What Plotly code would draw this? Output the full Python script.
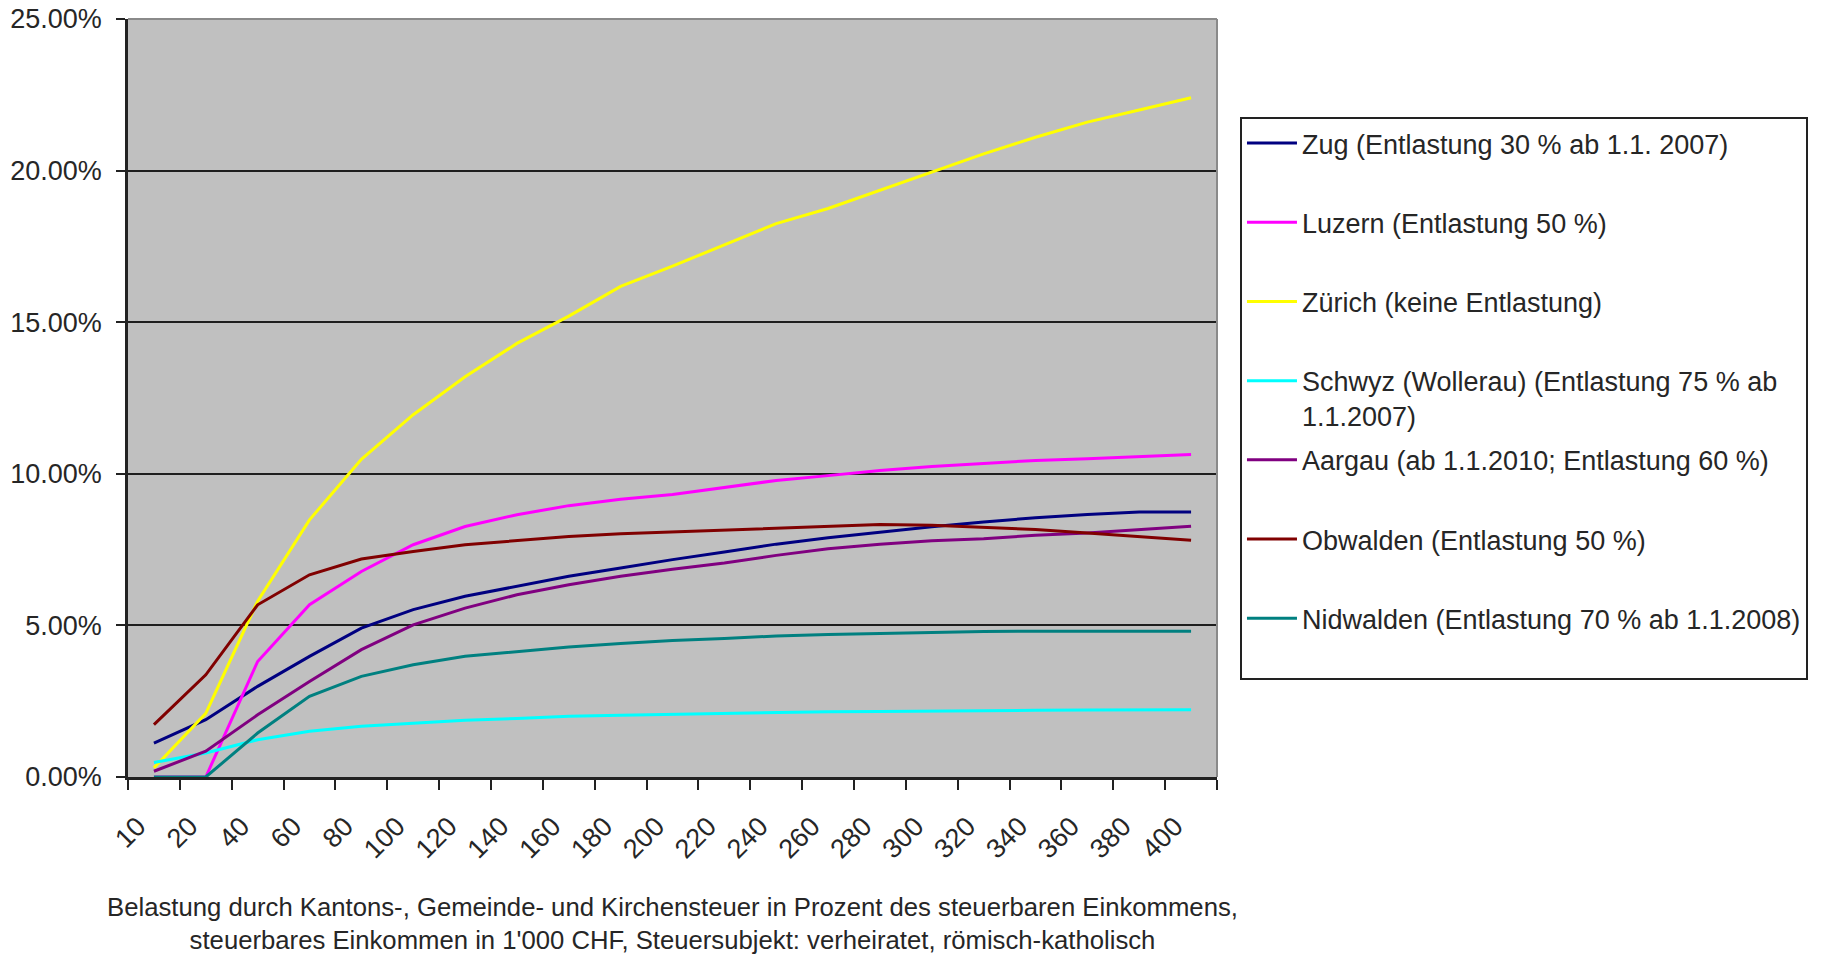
import plotly.graph_objects as go

# Taxable income in 1'000 CHF (category axis)
incomes = [10, 20, 40, 60, 80, 100, 120, 140, 160, 180, 200,
           220, 240, 260, 280, 300, 320, 340, 360, 380, 400]
categories = [str(v) for v in incomes]

# Tax burden in percent of taxable income
zug = [1.12, 1.89, 2.99, 3.98, 4.91, 5.52, 5.96, 6.29, 6.62, 6.89, 7.17,
       7.42, 7.68, 7.89, 8.08, 8.25, 8.41, 8.55, 8.66, 8.74, 8.74]
luzern = [0.0, 0.0, 3.81, 5.68, 6.78, 7.66, 8.26, 8.65, 8.95, 9.16, 9.32,
          9.56, 9.78, 9.94, 10.11, 10.24, 10.35, 10.44, 10.50, 10.57, 10.64]
zurich = [0.3, 2.1, 5.8, 8.48, 10.48, 11.95, 13.2, 14.3, 15.2, 16.18, 16.85,
          17.55, 18.25, 18.75, 19.35, 19.97, 20.55, 21.1, 21.6, 22.0, 22.4]
schwyz = [0.48, 0.79, 1.23, 1.51, 1.67, 1.78, 1.87, 1.93, 2.0, 2.04, 2.07,
          2.09, 2.12, 2.15, 2.16, 2.18, 2.19, 2.2, 2.21, 2.21, 2.22]
aargau = [0.19, 0.85, 2.05, 3.15, 4.20, 5.02, 5.57, 6.01, 6.34, 6.62, 6.85,
          7.06, 7.31, 7.53, 7.68, 7.79, 7.86, 7.97, 8.05, 8.16, 8.27]
obwalden = [1.73, 3.37, 5.68, 6.67, 7.19, 7.44, 7.66, 7.80, 7.93, 8.02, 8.08,
            8.14, 8.22, 8.27, 8.33, 8.30, 8.22, 8.16, 8.05, 7.94, 7.81]
nidwalden = [0.0, 0.0, 1.45, 2.66, 3.32, 3.70, 3.98, 4.14, 4.29, 4.40, 4.50,
             4.57, 4.65, 4.70, 4.74, 4.77, 4.80, 4.81, 4.81, 4.81, 4.81]

series_names = [
    "Zug (Entlastung 30 % ab 1.1. 2007)",
    "Luzern (Entlastung 50 %)",
    "Zürich (keine Entlastung)",
    "Schwyz (Wollerau) (Entlastung 75 % ab<br>1.1.2007)",
    "Aargau (ab 1.1.2010; Entlastung 60 %)",
    "Obwalden (Entlastung 50 %)",
    "Nidwalden (Entlastung 70 % ab 1.1.2008)",
]
series_values = [zug, luzern, zurich, schwyz, aargau, obwalden, nidwalden]
series_colors = ["#000080", "#FF00FF", "#FFFF00", "#00FFFF",
                 "#800080", "#800000", "#008080"]

y_ticks = [0, 5, 10, 15, 20, 25]
y_tick_labels = ["0.00%", "5.00%", "10.00%", "15.00%", "20.00%", "25.00%"]

x_title = ("Belastung durch Kantons-, Gemeinde- und Kirchensteuer in Prozent des steuerbaren Einkommens,"
           "<br>steuerbares Einkommen in 1'000 CHF, Steuersubjekt: verheiratet, römisch-katholisch")

FONT = "Liberation Sans, Arial, sans-serif"
TXT = "#262626"

fig = go.Figure()
for i, (name, vals, col) in enumerate(zip(series_names, series_values, series_colors)):
    label = name if "<br>" in name else name + "<br> "
    fig.add_trace(go.Scatter(
        x=categories, y=vals, mode="lines", name=label,
        line=dict(color=col, width=3),
        legendgroup=f"g{i}",
    ))

fig.update_layout(
    width=1821, height=958,
    margin=dict(l=128, r=604, t=19, b=181, autoexpand=False),
    paper_bgcolor="white",
    plot_bgcolor="#C0C0C0",
    font=dict(family=FONT, size=27, color=TXT),
    showlegend=True,
    legend=dict(
        x=1.0211, xanchor="left", y=0.8707, yanchor="top",
        bgcolor="white", bordercolor="#222222", borderwidth=2,
        font=dict(family=FONT, size=27, color=TXT),
        traceorder="grouped", tracegroupgap=6,
        valign="top", itemwidth=50,
    ),
    xaxis=dict(
        type="category",
        range=[-0.5, len(categories) - 0.5],
        tickson="boundaries",
        ticks="outside", ticklen=10, tickwidth=2, tickcolor="#222222",
        tickangle=-45,
        ticklabelstandoff=20, ticklabelshift=-16,
        ticklabeloverflow="allow",
        showgrid=False, zeroline=False,
        showline=True, linecolor="#222222", linewidth=2.5,
        tickfont=dict(family=FONT, size=27, color=TXT),
        title=dict(text=x_title, font=dict(family=FONT, size=25.7, color=TXT), standoff=35),
    ),
    yaxis=dict(
        range=[0, 25],
        tickmode="array", tickvals=y_ticks, ticktext=y_tick_labels,
        ticks="outside", ticklen=9, tickwidth=2, tickcolor="#222222",
        ticklabeloverflow="allow",
        showgrid=True, gridcolor="#1e1e1e", gridwidth=1.5,
        zeroline=False,
        showline=True, linecolor="#222222", linewidth=2.5,
        tickfont=dict(family=FONT, size=27, color=TXT),
        ticklabelstandoff=9,
    ),
    shapes=[
        dict(type="line", xref="paper", yref="paper", x0=0, x1=1, y0=1, y1=1,
             line=dict(color="#8a8a8a", width=2), layer="above"),
        dict(type="line", xref="paper", yref="paper", x0=1, x1=1, y0=0, y1=1,
             line=dict(color="#8a8a8a", width=2), layer="above"),
    ],
)

fig.write_html(
    "out.html",
    config={"displayModeBar": False},
    post_script="document.body.style.margin='0';document.body.style.overflow='hidden';",
)
